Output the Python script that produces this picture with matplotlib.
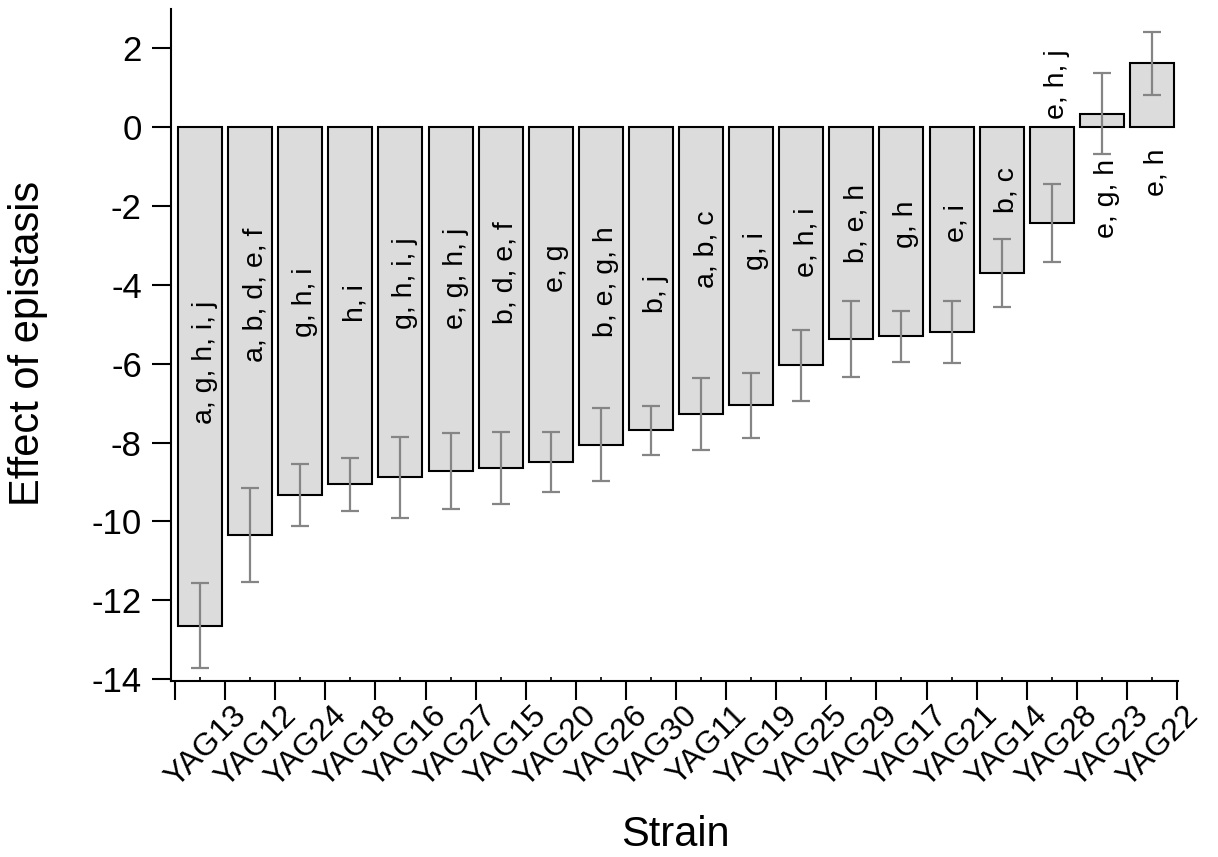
import numpy as np
import matplotlib
matplotlib.use("Agg")
import matplotlib.pyplot as plt
import matplotlib.transforms as mtransforms
from matplotlib.ticker import FixedLocator

plt.rcParams['font.family'] = ['Liberation Sans', 'DejaVu Sans']

# Strains, ordered by effect size
strains = ["YAG13", "YAG12", "YAG24", "YAG18", "YAG16", "YAG27", "YAG15", "YAG20",
           "YAG26", "YAG30", "YAG11", "YAG19", "YAG25", "YAG29", "YAG17", "YAG21",
           "YAG14", "YAG28", "YAG23", "YAG22"]
effect = [-12.65, -10.34, -9.33, -9.06, -8.88, -8.73, -8.64, -8.49,
          -8.05, -7.69, -7.27, -7.06, -6.04, -5.37, -5.30, -5.19,
          -3.70, -2.44, 0.34, 1.62]
err = [1.08, 1.19, 0.79, 0.67, 1.03, 0.96, 0.92, 0.76,
       0.93, 0.62, 0.91, 0.83, 0.90, 0.96, 0.65, 0.79,
       0.86, 0.99, 1.03, 0.80]
groups = ["a, g, h, i, j", "a, b, d, e, f", "g, h, i", "h, i", "g, h, i, j",
          "e, g, h, j", "b, d, e, f", "e, g", "b, e, g, h", "b, j", "a, b, c",
          "g, i", "e, h, i", "b, e, h", "g, h", "e, i", "b, c", "e, h, j",
          "e, g, h", "e, h"]
# vertical centre of each group label (data units)
group_y = [-5.96, -4.24, -4.45, -4.46, -3.96, -3.84, -3.70, -3.59, -3.91, -4.24,
           -3.09, -3.14, -2.92, -2.45, -2.45, -2.42, -1.60, 1.08, -1.81, -1.15]

x = np.arange(len(strains))

fig = plt.figure(figsize=(12.18, 8.57), dpi=100)
ax = fig.add_axes([171 / 1218, 1 - 681 / 857, 1007 / 1218, 672 / 857])

ax.bar(x, effect, width=0.88, color="#dcdcdc", edgecolor="black", linewidth=1.5, zorder=2)
ax.errorbar(x, effect, yerr=err, fmt="none", ecolor="#858585", elinewidth=1.6,
            capsize=6.5, capthick=1.6, zorder=3)

for xi, lab, yl in zip(x, groups, group_y):
    ax.text(xi + 0.1, yl, lab, rotation=90, ha="center", va="center", fontsize=20.5)

ax.set_xlim(-0.58, 19.52)
ax.set_ylim(-14.05, 3.0)

for side in ("top", "right"):
    ax.spines[side].set_visible(False)
for side in ("left", "bottom"):
    ax.spines[side].set_linewidth(1.5)

ax.set_yticks(np.arange(-14, 3, 2))
ax.set_yticklabels([str(v) for v in range(-14, 3, 2)])
ax.tick_params(axis="y", direction="out", length=14, width=1.5, pad=7, labelsize=25)

# labels sit at bar centres, long ticks mark the category boundaries
ax.set_xticks(x)
ax.set_xticklabels(strains)
ax.xaxis.set_minor_locator(FixedLocator(np.arange(-0.5, len(strains), 1.0)))
ax.tick_params(axis="x", which="major", direction="in", length=3, width=1.2,
               pad=14, labelsize=23)
ax.tick_params(axis="x", which="minor", direction="out", length=14, width=1.5)
shift = mtransforms.ScaledTranslation(6 / 100, 0, fig.dpi_scale_trans)
for lbl in ax.get_xticklabels():
    lbl.set_rotation(45)
    lbl.set_ha("center")
    lbl.set_transform(lbl.get_transform() + shift)

fig.text(28 / 1218, 1 - 343 / 857, "Effect of epistasis", rotation=90,
         ha="center", va="center", fontsize=30)
fig.text(675 / 1218, 1 - 835 / 857, "Strain", ha="center", va="center", fontsize=30)

fig.savefig("out.png", dpi=100)
